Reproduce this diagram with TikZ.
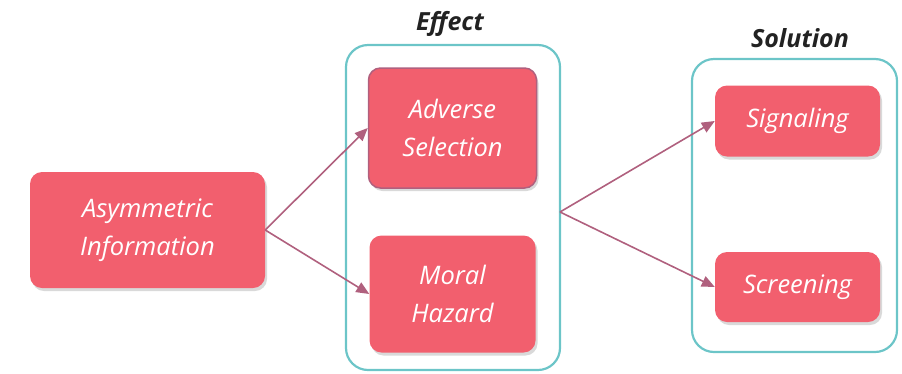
\documentclass[tikz,border=0pt]{standalone}
\usepackage{fontspec}
\setmainfont{Open Sans}
\usetikzlibrary{shadows,arrows.meta}
\definecolor{boxred}{HTML}{F25F6E}
\definecolor{teal}{HTML}{6CC5C8}
\definecolor{mauve}{HTML}{B0607E}
\definecolor{titlegray}{HTML}{222222}
\tikzset{
  redbox/.style={fill=boxred, rounded corners=12pt, text=white, align=center,
    font=\itshape\fontsize{25.5}{38}\selectfont, inner sep=0pt,
    drop shadow={shadow xshift=2pt, shadow yshift=-3pt, opacity=0.25, fill=black!60}},
  container/.style={draw=teal, line width=2.2pt, rounded corners=22pt},
  conn/.style={draw=mauve, line width=1.6pt, -{Triangle[length=13pt,width=11pt]}},
  title/.style={font=\bfseries\itshape\fontsize{25}{28}\selectfont, text=titlegray}
}
\begin{document}
\begin{tikzpicture}[x=1pt,y=-1pt]
\useasboundingbox (0,0) rectangle (902,373);
% containers
\draw[container] (346,45) rectangle (560,370);
\draw[container] (692,59) rectangle (897,352);
\node[title] (teff) at (450,24) {Effect};
\node[title] (tsol) at (800,38) {Solution};
% boxes
\node[redbox, minimum width=235pt, minimum height=116pt] (asym) at (147.5,230) {Asymmetric\\Information};
\node[redbox, minimum width=168pt, minimum height=120pt, draw=mauve, line width=1.5pt] (adv) at (452.5,128) {Adverse\\Selection};
\node[redbox, minimum width=166pt, minimum height=117pt] (moral) at (452.5,294) {Moral\\Hazard};
\node[redbox, minimum width=165pt, minimum height=71pt] (sig) at (797.5,121) {Signaling};
\node[redbox, minimum width=165pt, minimum height=70pt] (scr) at (797.5,287) {Screening};
\coordinate (effR) at (560,212);
% connectors
\draw[conn] (asym.east) -- (adv.west);
\draw[conn] (asym.east) -- (moral.west);
\draw[conn] (effR) -- (sig.west);
\draw[conn] (effR) -- (scr.west);
\end{tikzpicture}
\end{document}
